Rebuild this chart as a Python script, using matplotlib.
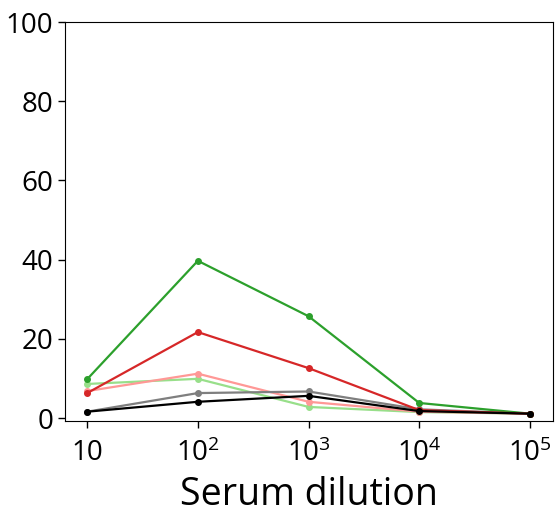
import matplotlib
matplotlib.use("Agg")
import matplotlib.pyplot as plt

dilution = [10, 1e2, 1e3, 1e4, 1e5]
light_green = [8.6, 9.9, 2.8, 1.5, 1.1]
light_red = [6.8, 11.2, 4.1, 1.6, 1.1]
gray = [1.6, 6.3, 6.7, 2.2, 1.1]
green = [9.8, 39.7, 25.7, 3.8, 1.1]
red = [6.3, 21.7, 12.6, 2.0, 1.1]
black = [1.6, 4.1, 5.6, 1.75, 1.1]

xtick_labels = ['10', '10$^{2}$', '10$^{3}$', '10$^{4}$', '10$^{5}$']
yticks = [0, 20, 40, 60, 80, 100]

plt.rcParams['font.family'] = ['Open Sans', 'DejaVu Sans']
plt.rcParams['mathtext.default'] = 'regular'

fig = plt.figure(figsize=(5.59, 5.17), dpi=100)
ax = fig.add_axes([0.1163, 0.1857, 0.8727, 0.7717])

series = [
    (light_green, '#98df8a'),
    (light_red, '#ff9896'),
    (gray, '#7f7f7f'),
    (green, '#2ca02c'),
    (red, '#d62728'),
    (black, 'black'),
]
for vals, col in series:
    ax.plot(dilution, vals, '-o', color=col, lw=1.6, ms=4)

ax.set_xscale('log')
ax.set_xlim(10**0.8, 10**5.207)
ax.set_ylim(-0.75, 100)
ax.set_xticks(dilution)
ax.set_xticklabels(xtick_labels)
ax.minorticks_off()
ax.set_yticks(yticks)
ax.tick_params(labelsize=20, length=5, width=1)
ax.tick_params(axis='x', pad=8)
ax.set_xlabel('Serum dilution', fontsize=27, labelpad=6)

plt.savefig('out.png', dpi=100)
